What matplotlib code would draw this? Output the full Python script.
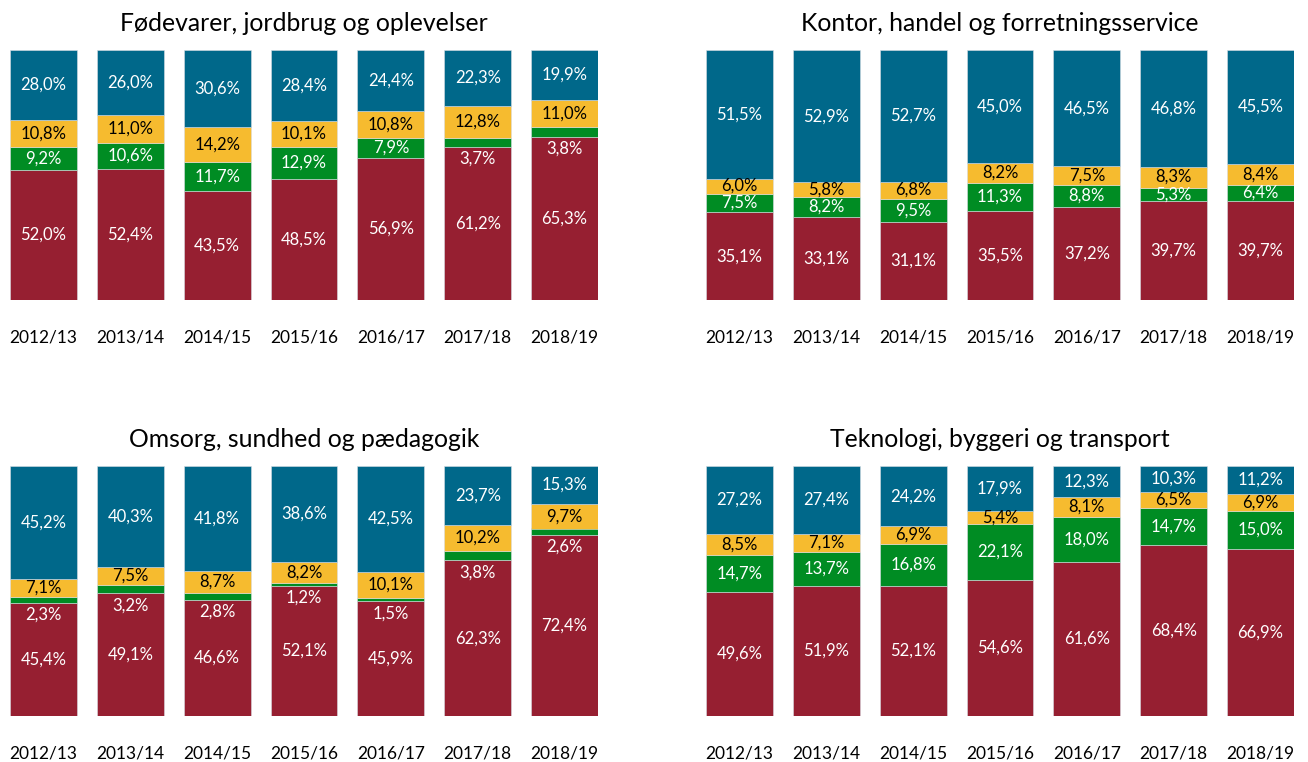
import numpy as np
import matplotlib.pyplot as plt

plt.rcParams['font.family'] = ['Lato', 'DejaVu Sans']

# Skoleår
years = ['2012/13', '2013/14', '2014/15', '2015/16', '2016/17', '2017/18', '2018/19']

titles = ['Fødevarer, jordbrug og oplevelser',
          'Kontor, handel og forretningsservice',
          'Omsorg, sundhed og pædagogik',
          'Teknologi, byggeri og transport']

# Andele i procent (nedefra: rød, grøn, gul, blå)
food_red = [52.0, 52.4, 43.5, 48.5, 56.9, 61.2, 65.3]
food_green = [9.2, 10.6, 11.7, 12.9, 7.9, 3.7, 3.8]
food_yellow = [10.8, 11.0, 14.2, 10.1, 10.8, 12.8, 11.0]
food_blue = [28.0, 26.0, 30.6, 28.4, 24.4, 22.3, 19.9]

office_red = [35.1, 33.1, 31.1, 35.5, 37.2, 39.7, 39.7]
office_green = [7.5, 8.2, 9.5, 11.3, 8.8, 5.3, 6.4]
office_yellow = [6.0, 5.8, 6.8, 8.2, 7.5, 8.3, 8.4]
office_blue = [51.5, 52.9, 52.7, 45.0, 46.5, 46.8, 45.5]

care_red = [45.4, 49.1, 46.6, 52.1, 45.9, 62.3, 72.4]
care_green = [2.3, 3.2, 2.8, 1.2, 1.5, 3.8, 2.6]
care_yellow = [7.1, 7.5, 8.7, 8.2, 10.1, 10.2, 9.7]
care_blue = [45.2, 40.3, 41.8, 38.6, 42.5, 23.7, 15.3]

tech_red = [49.6, 51.9, 52.1, 54.6, 61.6, 68.4, 66.9]
tech_green = [14.7, 13.7, 16.8, 22.1, 18.0, 14.7, 15.0]
tech_yellow = [8.5, 7.1, 6.9, 5.4, 8.1, 6.5, 6.9]
tech_blue = [27.2, 27.4, 24.2, 17.9, 12.3, 10.3, 11.2]

panels = [
    (food_red, food_green, food_yellow, food_blue),
    (office_red, office_green, office_yellow, office_blue),
    (care_red, care_green, care_yellow, care_blue),
    (tech_red, tech_green, tech_yellow, tech_blue),
]

colors = ['#961f31', '#008c23', '#f6bb2f', '#00688a']
text_colors = ['white', 'white', 'black', 'white']

fig = plt.figure(figsize=(13.08, 7.62), dpi=100)

W, H = 1308, 762
positions = [(10, 50), (706, 50), (10, 466), (706, 466)]
ax_w, ax_h = 588, 250

x = np.arange(len(years))
bw = 0.77

for (px, py), title, series in zip(positions, titles, panels):
    ax = fig.add_axes([px / W, 1 - (py + ax_h) / H, ax_w / W, ax_h / H])
    bottom = np.zeros(len(years))
    for k, (vals, col, tcol) in enumerate(zip(series, colors, text_colors)):
        vals = np.array(vals)
        ax.bar(x, vals, bw, bottom=bottom, color=col, edgecolor='#d8dde3',
               linewidth=0.4)
        for i, v in enumerate(vals):
            y = bottom[i] + v / 2
            # små grønne felter får teksten lige under feltet
            if k == 1 and v < 5:
                y = bottom[i] - 4.8
            ax.text(x[i], y, f'{v:.1f}%'.replace('.', ','), ha='center',
                    va='center', color=tcol, fontsize=12)
        bottom += vals
    ax.set_xlim(-bw / 2, len(years) - 1 + bw / 2)
    ax.set_ylim(0, 100)
    ax.set_xticks(x)
    ax.set_xticklabels(years, fontsize=12.5)
    ax.tick_params(axis='x', length=0, pad=21)
    ax.set_yticks([])
    for s in ax.spines.values():
        s.set_visible(False)
    ax.set_title(title, fontsize=17.8, pad=14)

fig.savefig('out.png', dpi=100)
